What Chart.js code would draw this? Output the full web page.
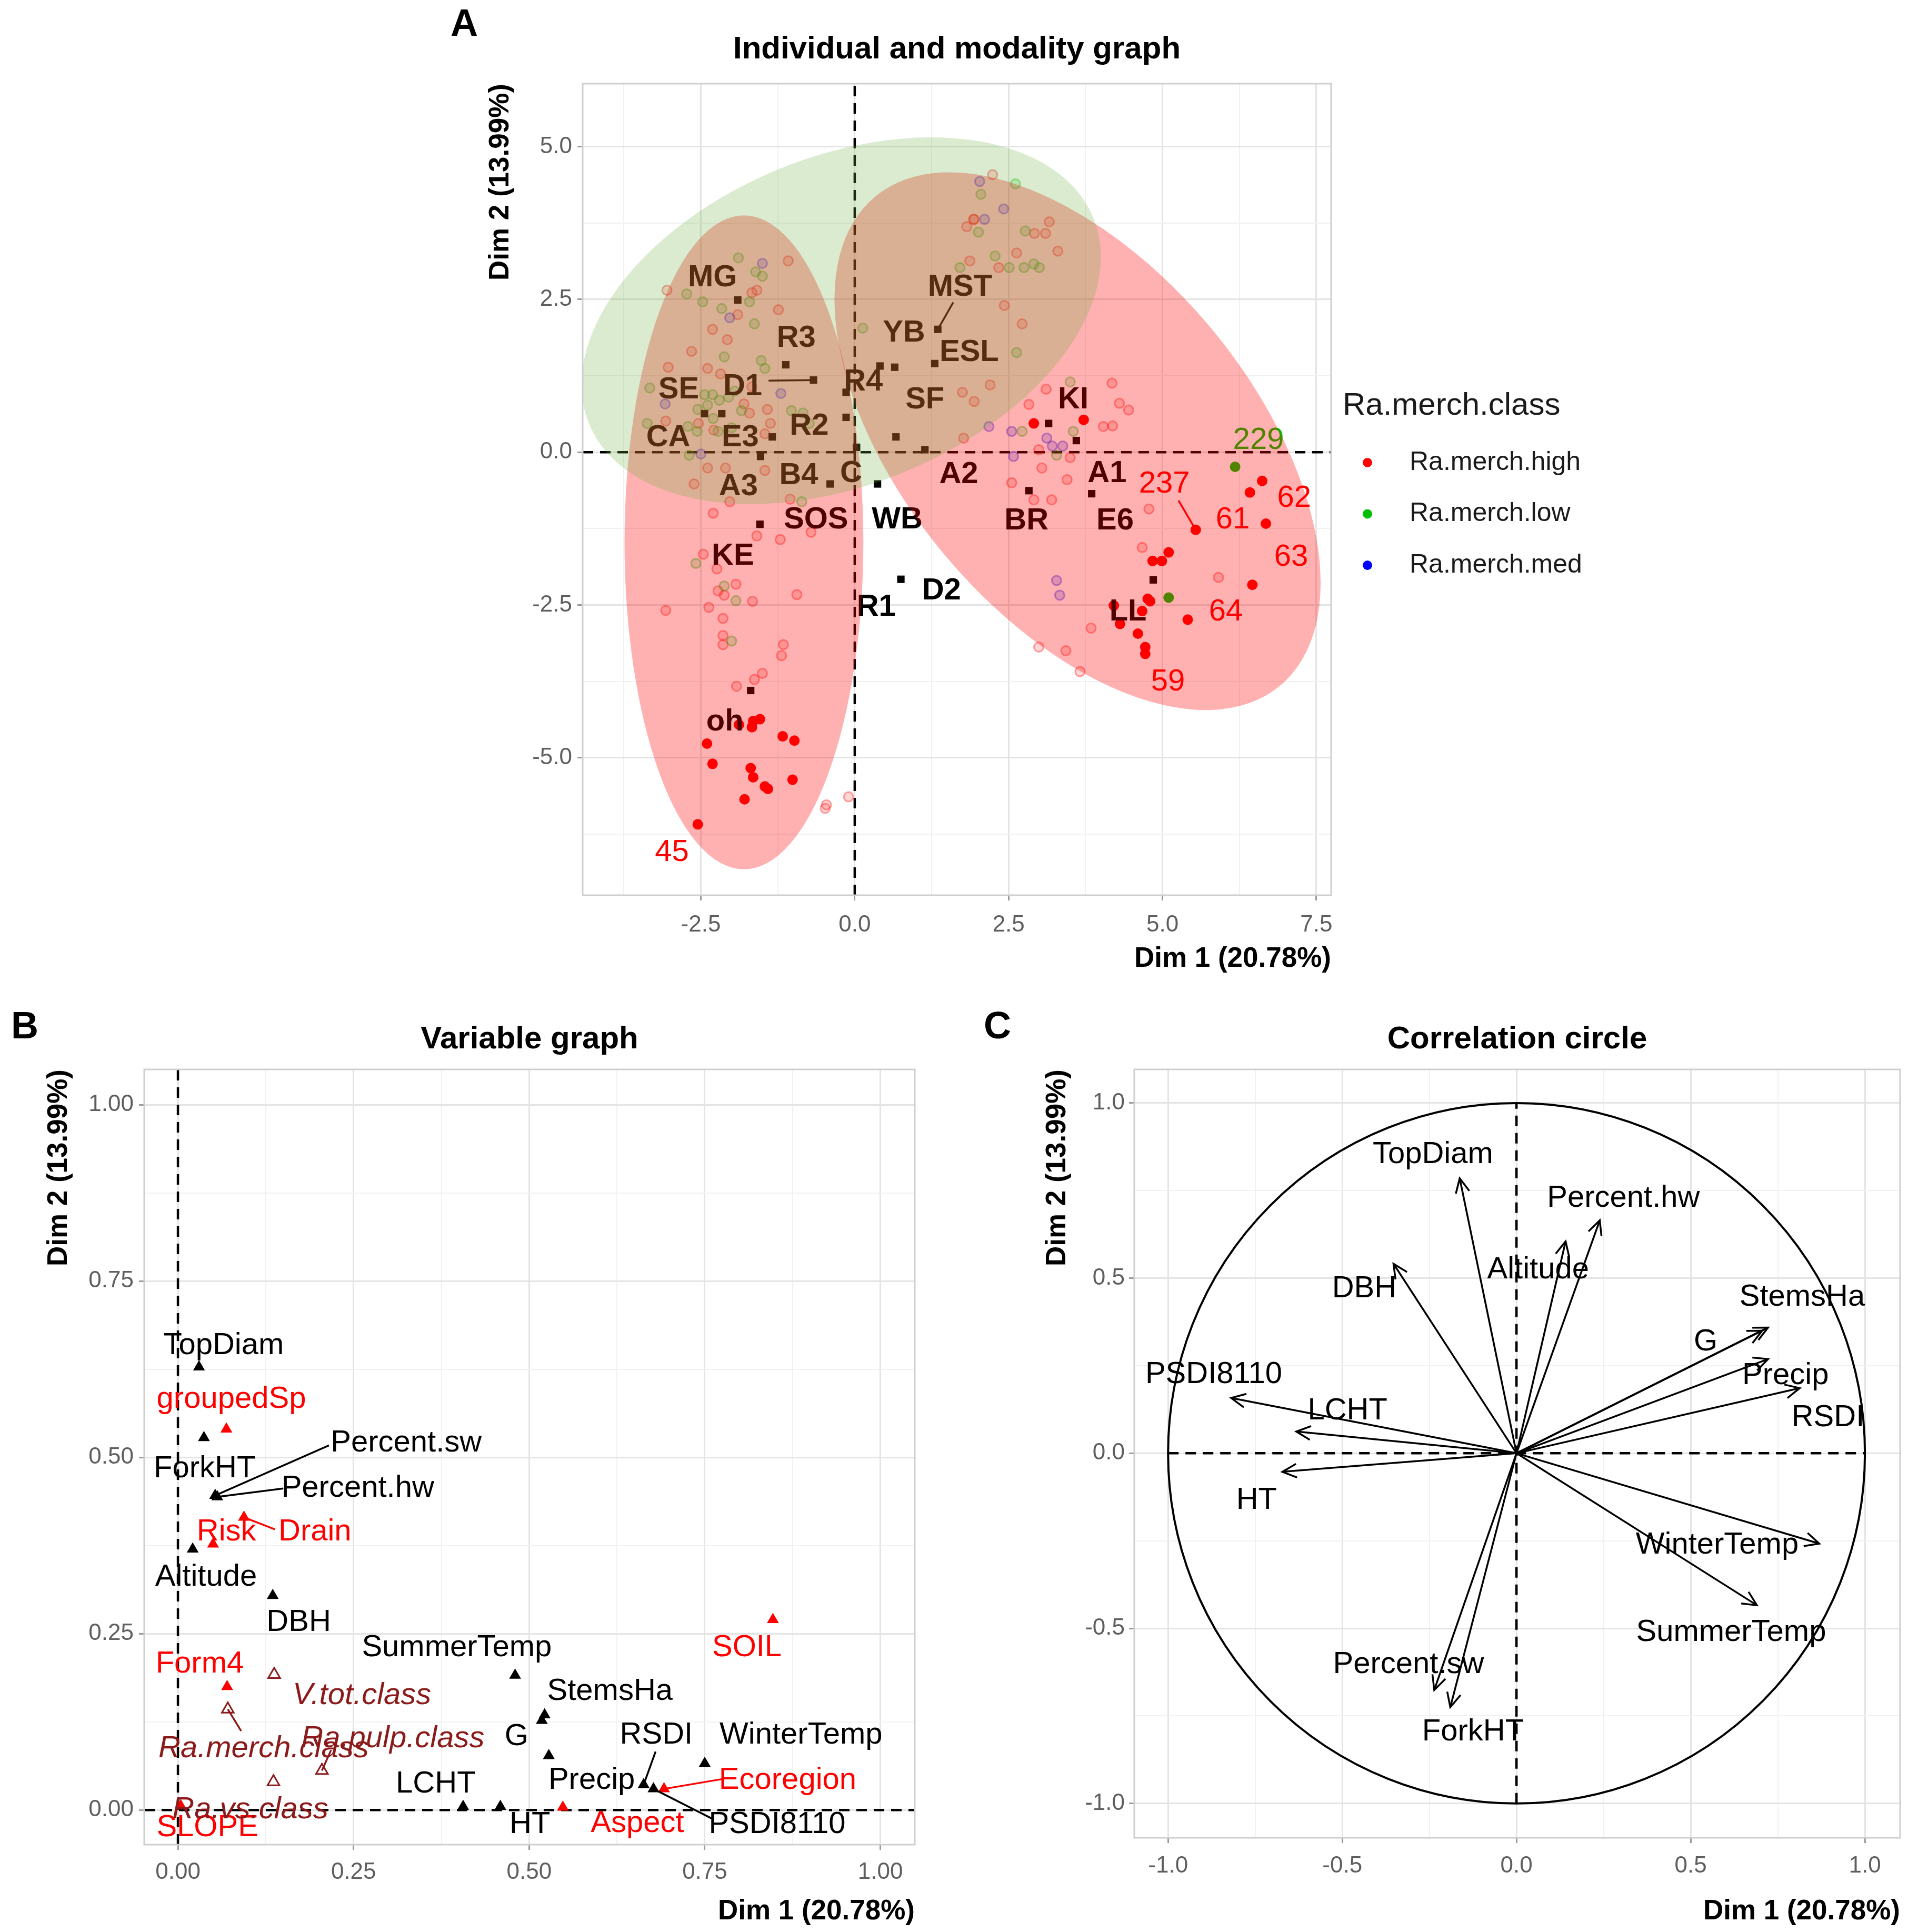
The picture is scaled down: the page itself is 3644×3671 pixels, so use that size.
<!DOCTYPE html>
<html>
<head>
<meta charset="utf-8">
<script src="https://cdn.jsdelivr.net/npm/chart.js@4.4.1/dist/chart.umd.min.js"></script>
<style>
  html, body { margin: 0; padding: 0; background: #fff; }
  body { width: 3644px; height: 3671px; position: relative; overflow: hidden; font-family: "Liberation Sans", Arial, sans-serif; }
  canvas { position: absolute; }
  .tag { position: absolute; font-weight: bold; font-size: 72px; line-height: 72px; color: #000; }
</style>
</head>
<body>
<div class="tag" style="left:856px; top:7px;">A</div>
<div class="tag" style="left:21px; top:1912px;">B</div>
<div class="tag" style="left:1869px; top:1912px;">C</div>
<canvas id="chartA" width="2944" height="1880" style="left:700px; top:0px;"></canvas>
<canvas id="chartB" width="1800" height="1791" style="left:0px; top:1880px;"></canvas>
<canvas id="chartC" width="1844" height="1791" style="left:1800px; top:1880px;"></canvas>
<script>
const FONT = '"Liberation Sans", Arial, sans-serif';

// ===== Panel A : individuals (Dim 1, Dim 2) =====
const highFaded = [[-3.07,-2.59],[-2.37,-2.54],[-2.14,-2.72],[-2.24,-1.91],[-1.93,-2.16],[-2.22,-2.27],[-2.12,-2.34],[-1.66,-2.44],
  [-2.14,-3.00],[-2.14,-3.15],[-1.16,-3.15],[-1.19,-3.33],[-1.50,-3.62],[-1.63,-3.72],[-1.92,-3.83],[-0.94,-2.33],[-1.59,-1.37],
  [-1.21,-1.43],[-0.71,-1.31],[-1.05,-0.77],[-2.03,-0.81],[-0.46,-5.77],[-0.48,-5.83],[-0.10,-5.64],[-2.46,-1.67],[-2.30,-1.00],
  [4.67,-1.56],[4.78,-0.93],[5.91,-2.05],[3.84,-2.88],[2.99,-3.19],[3.43,-3.25],[3.66,-3.59],[2.91,-0.78],[3.20,-0.78],
  [2.24,4.54],[3.16,3.77],[3.10,3.58],[2.92,3.58],[3.30,3.29],[2.63,3.26],[1.93,3.81],[1.82,3.69],[1.87,3.13],[2.34,3.02],
  [2.43,2.40],[2.72,2.10],[4.18,1.13],[4.30,0.80],[4.45,0.69],[4.04,0.42],[4.19,0.43],[3.11,1.03],[2.83,0.78],[3.04,-0.26],
  [3.50,-0.09],[2.99,0.04],[-1.08,3.13],[-3.05,2.65],[-1.59,2.65],[-1.67,2.61],[-1.24,2.33],[-1.90,2.25],[-2.65,1.65],
  [-2.07,1.84],[1.94,3.81],[1.75,0.98],[1.94,0.83],[-1.42,0.70],[-1.46,0.30],[-2.29,0.36],[-1.71,0.64],[-1.80,0.79],
  [-2.18,1.28],[-3.07,0.51],[-1.46,-0.30],[-2.10,-0.26],[-2.61,-0.52],[1.77,0.23],[2.55,-0.50],[3.45,-0.45],[2.20,1.10],
  [-3.03,1.39],[-2.39,1.37],[-1.67,1.07],[-2.31,2.01],[-1.37,0.47],[-2.39,-0.26],[-2.54,0.47]];
const lowFaded = [[-2.58,-1.82],[-2.12,-2.19],[-1.93,-2.43],[-2.00,-3.09],[-0.86,-0.81],[2.61,4.39],[2.05,4.22],[2.77,3.62],
  [2.28,3.21],[2.91,3.08],[3.00,3.02],[2.51,3.02],[2.63,1.63],[3.50,1.15],[3.55,0.34],[2.72,0.34],[3.28,-0.05],[-1.89,3.18],
  [-1.61,2.95],[-1.50,2.88],[-2.73,2.59],[-2.47,2.46],[-2.16,2.35],[-1.71,2.46],[-2.12,1.56],[-3.33,1.05],[-3.37,0.47],
  [-2.71,0.42],[-2.56,0.34],[-2.69,-0.05],[-1.84,0.68],[-0.84,0.64],[0.13,2.03],[1.71,3.02],[-2.44,0.94],[-2.39,0.77],
  [-2.30,0.55],[-2.20,0.85],[-2.55,0.70],[-2.00,0.40],[-1.95,1.00],[2.01,3.60],[2.75,3.02],
  [-2.31,0.94],[-2.05,0.90],[-1.46,1.37],[-1.52,1.50],[-1.63,2.10],[-1.03,0.68],[-0.74,0.47],[-2.22,0.34]];
const medFaded = [[-1.50,3.09],[-2.03,2.20],[-1.20,0.96],[-3.08,0.79],[-2.50,-0.03],[2.03,4.43],[2.11,3.81],[2.18,0.42],
  [2.42,3.98],[2.55,0.34],[3.12,0.23],[3.21,0.10],[3.38,0.10],[2.58,-0.07],[3.28,-2.10],[3.33,-2.34]];
const highSolid = [[-2.40,-4.77],[-2.31,-5.10],[-1.88,-4.46],[-1.65,-4.40],[-1.54,-4.37],[-1.67,-4.50],[-1.69,-5.17],
  [-1.65,-5.32],[-1.46,-5.47],[-1.41,-5.51],[-1.79,-5.68],[-1.01,-5.36],[-1.17,-4.65],[-0.98,-4.72],[-2.55,-6.09],
  [5.54,-1.27],[6.68,-1.17],[5.10,-1.64],[4.99,-1.78],[4.84,-1.78],[6.46,-2.17],[4.76,-2.40],[4.80,-2.44],[4.67,-2.60],
  [4.21,-2.51],[4.31,-2.81],[4.60,-2.97],[4.72,-3.19],[4.72,-3.30],[5.41,-2.74],[6.42,-0.66],[6.62,-0.47],[2.91,0.47],[3.72,0.53]];
const lowSolid = [[6.18,-0.24],[5.10,-2.38]];
const indNames = ['45', '59', '61', '62', '63', '64', '237', '229'];
const indClass = ['high', 'high', 'high', 'high', 'high', 'high', 'high', 'low'];
const indLabelPos = [[-2.97,-6.55],[5.09,-3.76],[6.14,-1.11],[7.14,-0.76],[7.09,-1.72],[6.03,-2.62],[5.03,-0.52],[6.56,0.19]];

// modality centres (squares) and their labels
const modalityPts = [[-1.90,2.49],[1.35,2.01],[-1.12,1.43],[-0.67,1.18],[-2.44,0.63],[-2.16,0.63],[-1.34,0.25],[-1.53,-0.07],
  [-0.14,0.98],[0.41,1.41],[0.65,1.39],[1.30,1.45],[-0.14,0.57],[0.67,0.25],[0.03,0.08],[1.14,0.04],[0.37,-0.52],[3.15,0.47],
  [3.60,0.19],[3.85,-0.68],[2.83,-0.63],[4.85,-2.09],[-1.69,-3.90],[0.75,-2.08],[-0.40,-0.52],[-1.54,-1.18]];
const modalityNames = ['MG','MST','R3','YB','ESL','SE','D1','R4','SF','KI','CA','E3','R2','A2','A1','A3','B4','C','SOS','WB',
  'BR','E6','KE','R1','D2','LL','oh'];
const modalityLabelPos = [[-2.31,2.85],[1.71,2.70],[-0.95,1.86],[0.80,1.95],[1.86,1.63],[-2.86,1.02],[-1.82,1.07],[0.14,1.15],
  [1.14,0.85],[3.55,0.85],[-3.03,0.23],[-1.86,0.23],[-0.74,0.42],[1.69,-0.37],[4.10,-0.35],[-1.89,-0.57],[-0.91,-0.39],
  [-0.06,-0.35],[-0.63,-1.11],[0.69,-1.11],[2.79,-1.13],[4.23,-1.13],[-1.98,-1.70],[0.35,-2.54],[1.41,-2.27],[4.44,-2.62],[-2.11,-4.42]];
const leadersA = [[1.60,2.45,1.35,2.01],[-1.40,1.17,-0.67,1.18]];
const leadersARed = [[5.26,-0.79,5.54,-1.27]];

// confidence ellipses: centre x, centre y, semi-axis a, semi-axis b, angle (deg)
const ellipsesHigh = [[-1.80,-1.475,5.35,1.94,90],[3.62,0.18,5.18,2.85,-50.8]];
const ellipsesLow = [[-0.22,2.15,4.43,2.68,22.5]];
const classNames = ['Ra.merch.high', 'Ra.merch.low', 'Ra.merch.med'];

// ===== Panel B : variable graph =====
const quantNames = ['TopDiam','ForkHT','Percent.sw','Percent.hw','Altitude','DBH','SummerTemp','StemsHa','G','Precip','RSDI',
  'WinterTemp','PSDI8110','LCHT','HT'];
const quantPts = [[0.030,0.628],[0.037,0.528],[0.053,0.446],[0.056,0.444],[0.021,0.370],[0.135,0.304],[0.480,0.191],[0.522,0.135],
  [0.518,0.127],[0.528,0.077],[0.663,0.036],[0.750,0.066],[0.677,0.030],[0.406,0.005],[0.459,0.005]];
const quantLabelPos = [[0.065,0.658],[0.038,0.484],[0.325,0.520],[0.256,0.456],[0.040,0.330],[0.172,0.266],[0.397,0.230],
  [0.615,0.168],[0.482,0.104],[0.589,0.042],[0.681,0.106],[0.887,0.106],[0.853,-0.021],[0.367,0.037],[0.501,-0.021]];
const qualNames = ['groupedSp','Drain','Risk','SOIL','Form4','Ecoregion','Aspect','SLOPE'];
const qualPts = [[0.069,0.540],[0.094,0.415],[0.050,0.377],[0.847,0.270],[0.070,0.175],[0.692,0.030],[0.548,0.004],[0.004,0.006]];
const qualLabelPos = [[0.076,0.582],[0.195,0.394],[0.069,0.394],[0.810,0.230],[0.031,0.207],[0.868,0.042],[0.654,-0.019],[0.042,-0.025]];
const suppNames = ['V.tot.class','Ra.merch.class','Ra.pulp.class','Ra.vs.class'];
const suppPts = [[0.137,0.192],[0.071,0.143],[0.205,0.056],[0.136,0.040]];
const suppLabelPos = [[0.262,0.162],[0.122,0.087],[0.306,0.101],[0.103,0.000]];
// label end of the repel segments, keyed by variable
const leadersB = { 'Percent.sw': [0.215,0.517], 'Percent.hw': [0.150,0.456], 'RSDI': [0.680,0.083], 'PSDI8110': [0.760,-0.012],
  'Drain': [0.138,0.398], 'Ecoregion': [0.775,0.044], 'Ra.merch.class': [0.090,0.112], 'Ra.pulp.class': [0.218,0.085] };

// ===== Panel C : correlation circle =====
const corrNames = ['TopDiam','Percent.hw','Altitude','DBH','StemsHa','G','Precip','RSDI','PSDI8110','LCHT','HT','WinterTemp',
  'SummerTemp','Percent.sw','ForkHT'];
const corrDim1 = [-0.163,0.239,0.141,-0.353,0.722,0.705,0.722,0.813,-0.819,-0.632,-0.672,0.869,0.690,-0.236,-0.190];
const corrDim2 = [0.785,0.665,0.605,0.541,0.359,0.350,0.269,0.186,0.158,0.062,-0.053,-0.258,-0.434,-0.676,-0.725];
const corrLabelPos = [[-0.24,0.853],[0.307,0.728],[0.062,0.523],[-0.437,0.470],[0.820,0.446],[0.543,0.317],[0.772,0.221],
  [0.894,0.101],[-0.869,0.225],[-0.485,0.120],[-0.746,-0.134],[0.576,-0.263],[0.616,-0.512],[-0.310,-0.604],[-0.125,-0.796]];

const dim1Title = 'Dim 1 (20.78%)';
const dim2Title = 'Dim 2 (13.99%)';

// ---------- helpers ----------
const xy = arr => arr.map(p => ({ x: p[0], y: p[1] }));
const isMult = (v, step) => Math.abs(v / step - Math.round(v / step)) < 1e-6;
const toPx = (chart, x, y) => [chart.scales.x.getPixelForValue(x), chart.scales.y.getPixelForValue(y)];

function axisOpts(c) {
  const major = v => isMult(v, c.major);
  return {
    type: 'linear', position: c.pos, min: c.min, max: c.max,
    border: { display: false },
    grid: {
      color: ctx => (ctx.tick && major(ctx.tick.value)) ? '#e4e4e4' : '#f1f1f1',
      lineWidth: ctx => (ctx.tick && major(ctx.tick.value)) ? 3 : 2,
      tickColor: ctx => (ctx.tick && major(ctx.tick.value)) ? '#9a9a9a' : 'rgba(0,0,0,0)',
      tickLength: 10, tickWidth: 3
    },
    ticks: {
      stepSize: c.step, includeBounds: false, autoSkip: false, maxRotation: 0, minRotation: 0,
      padding: c.tickPad, color: '#5e5e5e', font: { family: FONT, size: 44 },
      callback: v => major(v) ? Number(v).toFixed(c.digits) : ''
    },
    title: {
      display: true, text: c.title, align: 'end', color: '#000',
      font: { family: FONT, size: 53, weight: 'bold' },
      padding: c.pos === 'bottom' ? { top: 0, bottom: c.titlePad } : { top: c.titlePad, bottom: 0 }
    },
    afterFit: s => { if (c.pos === 'bottom') s.height = c.size; else s.width = c.size; }
  };
}

function titleOpts(text, top, bottom) {
  return { display: true, text, fullSize: false, color: '#000', font: { family: FONT, size: 60, weight: 'bold' }, padding: { top, bottom } };
}

function drawText(ctx, str, p, font, color) {
  ctx.save();
  ctx.font = font; ctx.fillStyle = color; ctx.textAlign = 'center'; ctx.textBaseline = 'middle';
  ctx.fillText(str, p[0], p[1]);
  ctx.restore();
}

function drawSeg(ctx, a, b, color, w) {
  ctx.save();
  ctx.strokeStyle = color; ctx.lineWidth = w;
  ctx.beginPath(); ctx.moveTo(a[0], a[1]); ctx.lineTo(b[0], b[1]); ctx.stroke();
  ctx.restore();
}

function zeroLines(chart, xr, yr) {
  const { ctx } = chart;
  ctx.save();
  ctx.beginPath();
  const ca = chart.chartArea;
  ctx.rect(ca.left, ca.top, ca.width, ca.height); ctx.clip();
  ctx.strokeStyle = '#000'; ctx.lineWidth = 4.5; ctx.setLineDash([20, 13]);
  ctx.beginPath();
  let a = toPx(chart, xr[0], 0), b = toPx(chart, xr[1], 0);
  ctx.moveTo(a[0], a[1]); ctx.lineTo(b[0], b[1]);
  a = toPx(chart, 0, yr[0]); b = toPx(chart, 0, yr[1]);
  ctx.moveTo(a[0], a[1]); ctx.lineTo(b[0], b[1]);
  ctx.stroke();
  ctx.restore();
}

function frame(chart) {
  const { ctx, chartArea: ca } = chart;
  ctx.save();
  ctx.strokeStyle = '#cfcfcf'; ctx.lineWidth = 3;
  ctx.strokeRect(ca.left, ca.top, ca.width, ca.height);
  ctx.restore();
}

function drawEllipse(chart, e, fill) {
  const { ctx, chartArea: ca, scales: { x, y } } = chart;
  const c = toPx(chart, e[0], e[1]);
  const sx = x.getPixelForValue(1) - x.getPixelForValue(0);
  const sy = y.getPixelForValue(0) - y.getPixelForValue(1);
  ctx.save();
  ctx.beginPath(); ctx.rect(ca.left, ca.top, ca.width, ca.height); ctx.clip();
  ctx.translate(c[0], c[1]);
  ctx.scale(sx, -sy);
  ctx.rotate(e[4] * Math.PI / 180);
  ctx.beginPath();
  ctx.ellipse(0, 0, e[2], e[3], 0, 0, Math.PI * 2);
  ctx.fillStyle = fill;
  ctx.fill();
  ctx.restore();
}

Chart.defaults.font.family = FONT;

// ---------- Panel A ----------
const panelAPlugin = {
  id: 'panelA',
  beforeDatasetsDraw(chart) {
    zeroLines(chart, [chart.scales.x.min, chart.scales.x.max], [chart.scales.y.min, chart.scales.y.max]);
  },
  afterDatasetsDraw(chart) {
    const ctx = chart.ctx;
    leadersA.forEach(s => drawSeg(ctx, toPx(chart, s[0], s[1]), toPx(chart, s[2], s[3]), '#000', 3.5));
    leadersARed.forEach(s => drawSeg(ctx, toPx(chart, s[0], s[1]), toPx(chart, s[2], s[3]), '#ff0000', 3.5));
    modalityNames.forEach((n, i) => drawText(ctx, n, toPx(chart, ...modalityLabelPos[i]), `bold 58px ${FONT}`, '#000'));
    indNames.forEach((n, i) => drawText(ctx, n, toPx(chart, ...indLabelPos[i]), `58px ${FONT}`, indClass[i] === 'high' ? '#ff0000' : '#00be00'));
    ellipsesHigh.forEach(e => drawEllipse(chart, e, 'rgba(255,0,0,0.31)'));
    ellipsesLow.forEach(e => drawEllipse(chart, e, 'rgba(107,175,67,0.25)'));
    frame(chart);
  },
  afterDraw(chart) {
    const { ctx, chartArea: ca } = chart;
    const colors = ['#ff0000', '#00be00', '#0000ff'];
    ctx.save();
    ctx.fillStyle = '#1a1a1a'; ctx.textAlign = 'left'; ctx.textBaseline = 'middle';
    ctx.font = `60px ${FONT}`;
    ctx.fillText('Ra.merch.class', ca.right + 22, ca.top + 612);
    ctx.font = `50px ${FONT}`;
    classNames.forEach((n, i) => {
      const yy = ca.top + 720 + i * 97.5;
      ctx.fillStyle = colors[i];
      ctx.beginPath(); ctx.arc(ca.right + 69, yy, 9, 0, Math.PI * 2); ctx.fill();
      ctx.fillStyle = '#1a1a1a';
      ctx.fillText(n, ca.right + 149, yy);
    });
    ctx.restore();
  }
};

new Chart(document.getElementById('chartA'), {
  type: 'scatter',
  data: {
    datasets: [
      { data: xy(modalityPts), pointStyle: 'rect', pointRadius: 10, backgroundColor: '#000', borderWidth: 0 },
      { data: xy(lowSolid), pointRadius: 10, backgroundColor: 'rgb(0,190,0)', borderWidth: 0 },
      { data: xy(highSolid), pointRadius: 10, backgroundColor: 'rgb(255,0,0)', borderWidth: 0 },
      { data: xy(medFaded), pointRadius: 9, backgroundColor: 'rgba(0,0,255,0.18)', borderColor: 'rgba(0,0,255,0.35)', borderWidth: 3 },
      { data: xy(lowFaded), pointRadius: 9, backgroundColor: 'rgba(0,190,0,0.18)', borderColor: 'rgba(0,190,0,0.38)', borderWidth: 3 },
      { data: xy(highFaded), pointRadius: 9, backgroundColor: 'rgba(255,0,0,0.16)', borderColor: 'rgba(255,0,0,0.35)', borderWidth: 3 }
    ]
  },
  options: {
    responsive: false, devicePixelRatio: 1, animation: false,
    layout: { padding: { left: 0, right: 1115, top: 0, bottom: 0 } },
    plugins: { legend: { display: false }, tooltip: { enabled: false }, title: titleOpts('Individual and modality graph', 58, 29) },
    scales: {
      x: axisOpts({ pos: 'bottom', min: -4.42, max: 7.74, step: 1.25, major: 2.5, digits: 1, tickPad: 20, title: dim1Title, titlePad: 26, size: 179 }),
      y: axisOpts({ pos: 'left', min: -7.25, max: 6.03, step: 1.25, major: 2.5, digits: 1, tickPad: 10, title: dim2Title, titlePad: 220, size: 407 })
    }
  },
  plugins: [panelAPlugin]
});

// ---------- Panel B ----------
const groupsB = [
  { names: quantNames, pts: quantPts, labs: quantLabelPos, color: '#000', font: `58px ${FONT}` },
  { names: qualNames, pts: qualPts, labs: qualLabelPos, color: '#ff0000', font: `58px ${FONT}` },
  { names: suppNames, pts: suppPts, labs: suppLabelPos, color: '#8b1a1a', font: `italic 58px ${FONT}` }
];

const panelBPlugin = {
  id: 'panelB',
  beforeDatasetsDraw(chart) {
    zeroLines(chart, [chart.scales.x.min, chart.scales.x.max], [chart.scales.y.min, chart.scales.y.max]);
  },
  afterDatasetsDraw(chart) {
    const ctx = chart.ctx;
    groupsB.forEach(g => {
      g.names.forEach((n, i) => {
        if (leadersB[n]) drawSeg(ctx, toPx(chart, ...leadersB[n]), toPx(chart, ...g.pts[i]), g.color, 3.5);
      });
    });
    groupsB.forEach(g => g.names.forEach((n, i) => drawText(ctx, n, toPx(chart, ...g.labs[i]), g.font, g.color)));
    frame(chart);
  }
};

new Chart(document.getElementById('chartB'), {
  type: 'scatter',
  data: {
    datasets: [
      { data: xy(quantPts), pointStyle: 'triangle', pointRadius: 13, backgroundColor: '#000', borderWidth: 0 },
      { data: xy(qualPts), pointStyle: 'triangle', pointRadius: 13, backgroundColor: '#ff0000', borderWidth: 0 },
      { data: xy(suppPts), pointStyle: 'triangle', pointRadius: 13, backgroundColor: 'rgba(0,0,0,0)', borderColor: '#8b1a1a', borderWidth: 3 }
    ]
  },
  options: {
    responsive: false, devicePixelRatio: 1, animation: false,
    layout: { padding: { left: 0, right: 62, top: 0, bottom: 0 } },
    plugins: { legend: { display: false }, tooltip: { enabled: false }, title: titleOpts('Variable graph', 59, 21) },
    scales: {
      x: axisOpts({ pos: 'bottom', min: -0.048, max: 1.049, step: 0.125, major: 0.25, digits: 2, tickPad: 16, title: dim1Title, titlePad: 7, size: 166 }),
      y: axisOpts({ pos: 'left', min: -0.049, max: 1.05, step: 0.125, major: 0.25, digits: 2, tickPad: 10, title: dim2Title, titlePad: 81, size: 274 })
    }
  },
  plugins: [panelBPlugin]
});

// ---------- Panel C ----------
const panelCPlugin = {
  id: 'panelC',
  beforeDatasetsDraw(chart) {
    const { ctx, scales: { x, y } } = chart;
    zeroLines(chart, [-1, 1], [-1, 1]);
    const c = toPx(chart, 0, 0);
    ctx.save();
    ctx.strokeStyle = '#000'; ctx.lineWidth = 4;
    ctx.beginPath();
    ctx.ellipse(c[0], c[1], x.getPixelForValue(1) - c[0], c[1] - y.getPixelForValue(1), 0, 0, Math.PI * 2);
    ctx.stroke();
    ctx.restore();
  },
  afterDatasetsDraw(chart) {
    const ctx = chart.ctx;
    const o = toPx(chart, 0, 0);
    ctx.save();
    ctx.strokeStyle = '#000'; ctx.lineWidth = 3.5;
    corrNames.forEach((n, i) => {
      const t = toPx(chart, corrDim1[i], corrDim2[i]);
      const ang = Math.atan2(t[1] - o[1], t[0] - o[0]), len = 30, spread = 0.45;
      ctx.beginPath();
      ctx.moveTo(t[0] - len * Math.cos(ang - spread), t[1] - len * Math.sin(ang - spread));
      ctx.lineTo(t[0], t[1]);
      ctx.lineTo(t[0] - len * Math.cos(ang + spread), t[1] - len * Math.sin(ang + spread));
      ctx.stroke();
    });
    ctx.restore();
    corrNames.forEach((n, i) => drawText(ctx, n, toPx(chart, ...corrLabelPos[i]), `58px ${FONT}`, '#000'));
    frame(chart);
  }
};

new Chart(document.getElementById('chartC'), {
  type: 'scatter',
  data: {
    datasets: corrNames.map((n, i) => ({
      label: n, data: [{ x: 0, y: 0 }, { x: corrDim1[i], y: corrDim2[i] }],
      showLine: true, borderColor: '#000', borderWidth: 3.5, pointRadius: 0
    }))
  },
  options: {
    responsive: false, devicePixelRatio: 1, animation: false,
    layout: { padding: { left: 0, right: 34, top: 0, bottom: 0 } },
    plugins: { legend: { display: false }, tooltip: { enabled: false }, title: titleOpts('Correlation circle', 59, 21) },
    scales: {
      x: axisOpts({ pos: 'bottom', min: -1.097, max: 1.101, step: 0.25, major: 0.5, digits: 1, tickPad: 17, title: dim1Title, titlePad: 7, size: 179 }),
      y: axisOpts({ pos: 'left', min: -1.098, max: 1.096, step: 0.25, major: 0.5, digits: 1, tickPad: 8, title: dim2Title, titlePad: 178, size: 355 })
    }
  },
  plugins: [panelCPlugin]
});
</script>
</body>
</html>
